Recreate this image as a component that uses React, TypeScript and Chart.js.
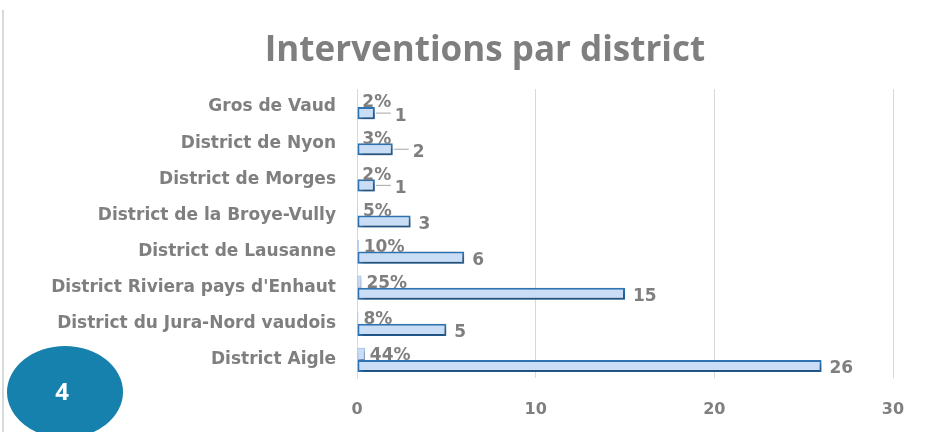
import React, { useEffect, useRef } from "react";
import { Chart, registerables } from "chart.js";

Chart.register(...registerables);

const categories = [
  "Gros de Vaud",
  "District de Nyon",
  "District de Morges",
  "District de la Broye-Vully",
  "District de Lausanne",
  "District Riviera pays d'Enhaut",
  "District du Jura-Nord vaudois",
  "District Aigle",
];
const counts = [1, 2, 1, 3, 6, 15, 5, 26];
const shares = [0.02, 0.03, 0.02, 0.05, 0.1, 0.25, 0.08, 0.44];
const xTicks = [0, 10, 20, 30];
const titleText = "Interventions par district";
const badgeText = "4";

const GRAY = "#7f7f7f";
const FONT = "'Open Sans', 'Noto Sans', sans-serif";
const LFONT = "'DejaVu Sans', sans-serif";

const decorPlugin = {
  id: "decor",
  beforeDraw(chart: any) {
    const ctx = chart.ctx;
    ctx.save();
    ctx.strokeStyle = "#d9d9d9";
    ctx.lineWidth = 2;
    ctx.beginPath();
    ctx.moveTo(3, 10);
    ctx.lineTo(3, chart.height);
    ctx.stroke();
    ctx.fillStyle = GRAY;
    ctx.font = `bold 35px ${FONT}`;
    ctx.textAlign = "center";
    ctx.textBaseline = "middle";
    ctx.fillText(titleText, 485, 51);
    ctx.restore();
  },
  beforeDatasetsDraw(chart: any) {
    const ctx = chart.ctx;
    ctx.save();
    ctx.shadowColor = "rgba(0,0,0,0.35)";
    ctx.shadowBlur = 4;
    ctx.shadowOffsetX = 2;
    ctx.shadowOffsetY = 3;
  },
  afterDatasetsDraw(chart: any) {
    const ctx = chart.ctx;
    ctx.restore();
    ctx.save();
    ctx.font = `bold 17px ${LFONT}`;
    ctx.fillStyle = GRAY;
    ctx.textBaseline = "middle";
    ctx.textAlign = "left";
    const m0 = chart.getDatasetMeta(0);
    m0.data.forEach((bar: any, i: number) => {
      const txt = Math.round(shares[i] * 100) + "%";
      ctx.fillText(txt, bar.x + 5, bar.y + 2);
    });
    const m1 = chart.getDatasetMeta(1);
    m1.data.forEach((bar: any, i: number) => {
      const v = counts[i];
      let off = 8;
      if (v <= 2) {
        off = 20;
        ctx.save();
        ctx.strokeStyle = "#a6a6a6";
        ctx.lineWidth = 1;
        ctx.beginPath();
        ctx.moveTo(bar.x + 1, bar.y);
        ctx.lineTo(bar.x + off - 4, bar.y);
        ctx.stroke();
        ctx.restore();
      }
      ctx.fillText(String(v), bar.x + off, bar.y + 3);
    });
    ctx.restore();
  },
  afterDraw(chart: any) {
    const ctx = chart.ctx;
    ctx.save();
    ctx.fillStyle = "#1781ad";
    ctx.beginPath();
    ctx.ellipse(65, 392, 58, 46, 0, 0, Math.PI * 2);
    ctx.fill();
    ctx.fillStyle = "#ffffff";
    ctx.font = `bold 24px ${FONT}`;
    ctx.textAlign = "center";
    ctx.textBaseline = "middle";
    ctx.fillText(badgeText, 62, 393);
    ctx.restore();
  },
};

export default function App() {
  const ref = useRef<HTMLCanvasElement>(null);
  useEffect(() => {
    document.body.style.margin = "0";
    const barStyle = {
      backgroundColor: "#c9ddf7",
      borderColor: "#2e75b6",
      borderWidth: 2,
      borderSkipped: false,
      categoryPercentage: 0.67,
      barPercentage: 1,
    };
    const chart = new Chart(ref.current as HTMLCanvasElement, {
      type: "bar",
      data: {
        labels: categories,
        datasets: [
          { label: "Part", data: shares, ...barStyle, borderWidth: 1, borderColor: "#8fb4e3" },
          { label: "Interventions", data: counts, ...barStyle },
        ],
      },
      options: {
        indexAxis: "y",
        animation: false,
        responsive: false,
        maintainAspectRatio: false,
        layout: { padding: { left: 0, right: 35, top: 89, bottom: 0 } },
        plugins: {
          legend: { display: false },
          tooltip: { enabled: false },
          title: { display: false },
        },
        scales: {
          x: {
            min: 0,
            max: 30,
            afterFit(s: any) {
              s.height = 54;
            },
            afterBuildTicks(s: any) {
              s.ticks = xTicks.map((v) => ({ value: v }));
            },
            grid: { color: "#d9d9d9", drawTicks: false },
            border: { display: false },
            ticks: {
              color: GRAY,
              padding: 22,
              font: { family: LFONT, size: 16, weight: "bold" },
            },
          },
          y: {
            afterFit(s: any) {
              s.width = 357;
            },
            grid: { display: false, drawTicks: false },
            border: { display: true, color: "#d9d9d9", width: 1 },
            ticks: {
              color: GRAY,
              padding: 21,
              font: { family: LFONT, size: 17, weight: "bold" },
            },
          },
        },
      },
      plugins: [decorPlugin],
    } as any);
    return () => chart.destroy();
  }, []);
  return (
    <div style={{ width: 928, height: 432 }}>
      <canvas ref={ref} width={928} height={432} style={{ display: "block" }} />
    </div>
  );
}
